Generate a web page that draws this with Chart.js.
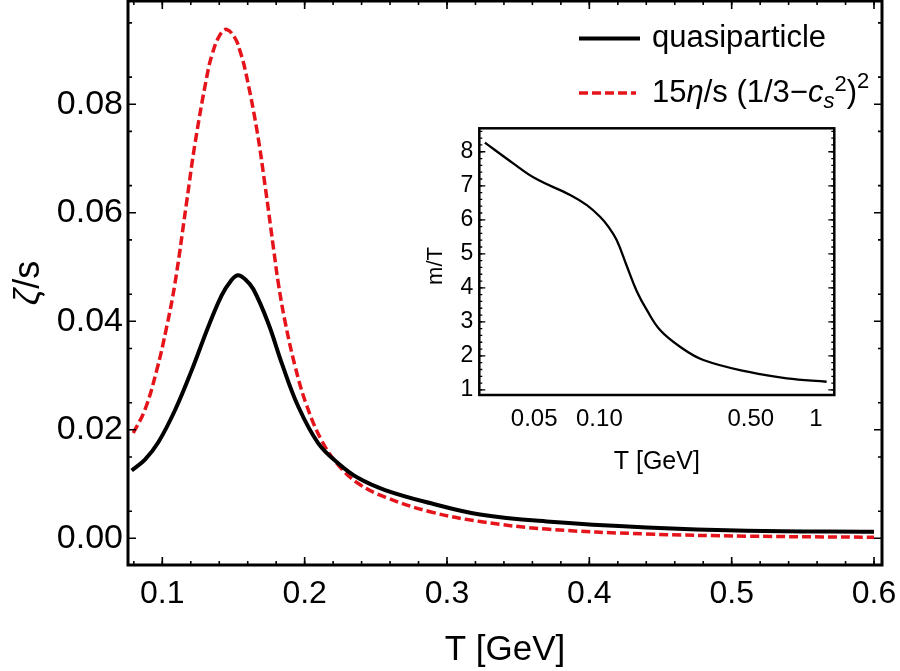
<!DOCTYPE html>
<html>
<head>
<meta charset="utf-8">
<script src="https://cdn.jsdelivr.net/npm/chart.js@4"></script>
<style>
  html, body { margin: 0; padding: 0; background: #fff; }
  #wrap { position: relative; width: 900px; height: 671px; }
  #mainChart { position: absolute; left: 0; top: 0; }
  #insetChart { position: absolute; left: 420px; top: 120px; }
</style>
</head>
<body>
<div id="wrap">
  <canvas id="mainChart" width="900" height="671"></canvas>
  <canvas id="insetChart" width="425" height="360"></canvas>
</div>
<script>
/* zeta/s vs T, with m/T inset */

const FONT = '"Liberation Sans", Arial, Helvetica, sans-serif';
const RED = "#e5141b";

// main panel: quasiparticle zeta/s
const T_QP = [0.0785, 0.0878, 0.0972, 0.1089, 0.1207, 0.1323, 0.1417, 0.148, 0.153, 0.158, 0.164,
  0.1745, 0.1839, 0.1955, 0.2096, 0.2237, 0.2377, 0.2565, 0.2881, 0.3232, 0.370, 0.4403, 0.5106, 0.6];
const ZETA_QP = [0.0125, 0.0145, 0.0177, 0.0236, 0.0310, 0.0390, 0.0448, 0.0474, 0.0485, 0.0478, 0.0459,
  0.0396, 0.0323, 0.0243, 0.0175, 0.0138, 0.0111, 0.0089, 0.0065, 0.0044, 0.0031, 0.0020, 0.0014, 0.0012];

// main panel: 15 eta/s (1/3 - cs^2)^2
const T_EST = [0.0796, 0.0878, 0.0961, 0.1031, 0.1089, 0.117, 0.123, 0.1312, 0.1351, 0.1405, 0.1452,
  0.1511, 0.1546, 0.1581, 0.1663, 0.1722, 0.178, 0.1815, 0.1862, 0.1932, 0.2014, 0.212, 0.2237,
  0.2377, 0.2565, 0.2881, 0.3232, 0.370, 0.4403, 0.5106, 0.6];
const ZETA_EST = [0.0194, 0.0237, 0.0310, 0.0390, 0.0470, 0.0618, 0.0728, 0.0850, 0.0893, 0.0928, 0.0938,
  0.0922, 0.0898, 0.0865, 0.0755, 0.0650, 0.0537, 0.0470, 0.0400, 0.0318, 0.0245, 0.0180, 0.0135,
  0.0101, 0.0076, 0.0049, 0.0031, 0.0017, 0.0008, 0.0004, 0.0002];

const X_TICKS = [0.1, 0.2, 0.3, 0.4, 0.5, 0.6];
const Y_TICKS = [0, 0.02, 0.04, 0.06, 0.08];

// inset: m/T vs T (log axis)
const T_MASS = [0.0296, 0.04, 0.0505, 0.0733, 0.0875, 0.1007, 0.110, 0.1203, 0.1337, 0.1488,
  0.1655, 0.1906, 0.2356, 0.302, 0.496, 0.733, 1.12];
const M_OVER_T = [8.27, 7.66, 7.22, 6.73, 6.43, 6.09, 5.80, 5.40, 4.65, 3.90,
  3.35, 2.76, 2.27, 1.88, 1.52, 1.34, 1.24];
const INSET_X_TICKS = [0.05, 0.1, 0.5, 1];
const INSET_X_LABELS = ["0.05", "0.10", "0.50", "1"];
const INSET_Y_TICKS = [1, 2, 3, 4, 5, 6, 7, 8];

const toPoints = (xs, ys) => xs.map((x, i) => ({ x, y: ys[i] }));

function drawRich(ctx, x, y, parts) {
  parts.forEach((p) => {
    ctx.font = `${p.italic ? "italic " : ""}${p.size}px ${FONT}`;
    ctx.fillText(p.text, x, y + (p.dy || 0));
    x += ctx.measureText(p.text).width;
  });
}

function tickPath(ctx, a, xs, ys, len) {
  xs.forEach((px) => {
    ctx.moveTo(px, a.bottom); ctx.lineTo(px, a.bottom - len);
    ctx.moveTo(px, a.top); ctx.lineTo(px, a.top + len);
  });
  ys.forEach((py) => {
    ctx.moveTo(a.left, py); ctx.lineTo(a.left + len, py);
    ctx.moveTo(a.right, py); ctx.lineTo(a.right - len, py);
  });
}

// chart.js pads vertical scales for half a label height; the frame must sit flush
function noScalePadding(s) {
  s.paddingTop = 0;
  s.paddingBottom = 0;
  s.paddingLeft = 0;
  s.paddingRight = 0;
}

const mainDecor = {
  id: "mainDecor",
  afterDraw(chart) {
    const { ctx, chartArea: a, scales: { x, y } } = chart;
    ctx.save();
    ctx.strokeStyle = "#000";
    ctx.lineWidth = 1.6;

    const xMinor = [], yMinor = [];
    for (let v = 0.08; v < 0.605; v += 0.02) xMinor.push(x.getPixelForValue(v));
    for (let v = 0.005; v < 0.099; v += 0.01) yMinor.push(y.getPixelForValue(v));
    ctx.beginPath();
    tickPath(ctx, a, xMinor, yMinor, 4);
    ctx.stroke();
    ctx.beginPath();
    tickPath(ctx, a, X_TICKS.map((v) => x.getPixelForValue(v)), Y_TICKS.map((v) => y.getPixelForValue(v)), 8);
    ctx.stroke();

    ctx.lineWidth = 3;
    ctx.strokeRect(a.left, a.top, a.right - a.left, a.bottom - a.top);

    // axis titles
    ctx.fillStyle = "#000";
    ctx.textAlign = "center";
    ctx.textBaseline = "alphabetic";
    ctx.font = `35px ${FONT}`;
    ctx.fillText("T [GeV]", (a.left + a.right) / 2, 660);

    ctx.save();
    ctx.translate(39, 283);
    ctx.rotate(-Math.PI / 2);
    ctx.textAlign = "left";
    ctx.font = `italic 36px ${FONT}`;
    const w1 = ctx.measureText("\u03b6").width;
    ctx.font = `36px ${FONT}`;
    const w2 = ctx.measureText("/s").width;
    drawRich(ctx, -(w1 + w2) / 2, 0, [
      { text: "\u03b6", italic: true, size: 36 },
      { text: "/s", size: 36 },
    ]);
    ctx.restore();

    // legend
    ctx.lineWidth = 4;
    ctx.beginPath();
    ctx.moveTo(579, 38.5); ctx.lineTo(640, 38.5);
    ctx.stroke();
    ctx.strokeStyle = RED;
    ctx.lineWidth = 3.5;
    ctx.setLineDash([9, 4]);
    ctx.beginPath();
    ctx.moveTo(579, 93); ctx.lineTo(636, 93);
    ctx.stroke();
    ctx.setLineDash([]);

    ctx.textAlign = "left";
    drawRich(ctx, 652, 47, [{ text: "quasiparticle", size: 31 }]);
    drawRich(ctx, 652, 102, [
      { text: "15", size: 31 },
      { text: "\u03b7", italic: true, size: 31 },
      { text: "/s (1/3\u2212", size: 31 },
      { text: "c", italic: true, size: 31 },
      { text: "s", italic: true, size: 22, dy: 6 },
      { text: "2", size: 22, dy: -11 },
      { text: ")", size: 31 },
      { text: "2", size: 22, dy: -14 },
    ]);
    ctx.restore();
  },
};

new Chart(document.getElementById("mainChart"), {
  type: "line",
  data: {
    datasets: [
      {
        label: "quasiparticle",
        data: toPoints(T_QP, ZETA_QP),
        borderColor: "#000",
        borderWidth: 4,
        pointRadius: 0,
        tension: 0.4,
        fill: false,
      },
      {
        label: "15η/s (1/3−cs²)²",
        data: toPoints(T_EST, ZETA_EST),
        borderColor: RED,
        borderWidth: 3.5,
        borderDash: [9, 4],
        pointRadius: 0,
        tension: 0.4,
        fill: false,
      },
    ],
  },
  options: {
    responsive: false,
    animation: false,
    devicePixelRatio: 1,
    layout: { padding: { top: 1, right: 18, left: 0, bottom: 0 } },
    plugins: { legend: { display: false }, tooltip: { enabled: false } },
    scales: {
      x: {
        type: "linear",
        min: 0.0759,
        max: 0.6056,
        grid: { display: false, drawTicks: false },
        border: { display: false },
        afterFit: (s) => { s.height = 106; noScalePadding(s); },
        afterBuildTicks: (s) => { s.ticks = X_TICKS.map((v) => ({ value: v })); },
        ticks: {
          color: "#000",
          font: { family: FONT, size: 32 },
          padding: 10,
          maxRotation: 0,
          callback: (v) => v.toFixed(1),
        },
      },
      y: {
        type: "linear",
        min: -0.00492,
        max: 0.09904,
        grid: { display: false, drawTicks: false },
        border: { display: false },
        afterFit: (s) => { s.width = 128; noScalePadding(s); },
        afterBuildTicks: (s) => { s.ticks = Y_TICKS.map((v) => ({ value: v })); },
        ticks: {
          color: "#000",
          font: { family: FONT, size: 34 },
          padding: 5,
          callback: (v) => v.toFixed(2),
        },
      },
    },
  },
  plugins: [mainDecor],
});

const insetDecor = {
  id: "insetDecor",
  beforeDraw(chart) {
    const { ctx, width, height } = chart;
    ctx.save();
    ctx.fillStyle = "#fff";
    ctx.fillRect(0, 0, width, height);
    ctx.restore();
  },
  afterDraw(chart) {
    const { ctx, chartArea: a, scales: { y } } = chart;
    ctx.save();
    ctx.strokeStyle = "#000";
    ctx.lineWidth = 1.3;
    const yMinor = [];
    for (let v = 1; v < 8.7; v += 0.2) yMinor.push(y.getPixelForValue(v));
    ctx.beginPath();
    tickPath(ctx, a, [], yMinor, 3);
    ctx.stroke();
    ctx.beginPath();
    tickPath(ctx, a, [], INSET_Y_TICKS.map((v) => y.getPixelForValue(v)), 6);
    ctx.stroke();

    ctx.lineWidth = 2.5;
    ctx.strokeRect(a.left, a.top, a.right - a.left, a.bottom - a.top);

    ctx.fillStyle = "#000";
    ctx.textAlign = "center";
    ctx.textBaseline = "alphabetic";
    ctx.font = `25px ${FONT}`;
    ctx.fillText("T [GeV]", (a.left + a.right) / 2, 349);

    ctx.translate(22, 146);
    ctx.rotate(-Math.PI / 2);
    ctx.font = `22px ${FONT}`;
    ctx.fillText("m/T", 0, 0);
    ctx.restore();
  },
};

new Chart(document.getElementById("insetChart"), {
  type: "line",
  data: {
    datasets: [
      {
        label: "m/T",
        data: toPoints(T_MASS, M_OVER_T),
        borderColor: "#000",
        borderWidth: 2.3,
        pointRadius: 0,
        tension: 0.4,
        fill: false,
      },
    ],
  },
  options: {
    responsive: false,
    animation: false,
    devicePixelRatio: 1,
    layout: { padding: { top: 8.3, right: 10.7, left: 0, bottom: 0 } },
    plugins: { legend: { display: false }, tooltip: { enabled: false } },
    scales: {
      x: {
        type: "logarithmic",
        min: 0.0279,
        max: 1.215,
        grid: { display: false, drawTicks: false },
        border: { display: false },
        afterFit: (s) => { s.height = 85; noScalePadding(s); },
        afterBuildTicks: (s) => { s.ticks = INSET_X_TICKS.map((v) => ({ value: v })); },
        ticks: {
          color: "#000",
          font: { family: FONT, size: 24 },
          padding: 10,
          maxRotation: 0,
          autoSkip: false,
          callback: (v, i) => INSET_X_LABELS[i],
        },
      },
      y: {
        type: "linear",
        min: 0.85,
        max: 8.69,
        grid: { display: false, drawTicks: false },
        border: { display: false },
        afterFit: (s) => { s.width = 59.3; noScalePadding(s); },
        afterBuildTicks: (s) => { s.ticks = INSET_Y_TICKS.map((v) => ({ value: v })); },
        ticks: {
          color: "#000",
          font: { family: FONT, size: 23 },
          padding: 6,
          callback: (v) => String(v),
        },
      },
    },
  },
  plugins: [insetDecor],
});
</script>
</body>
</html>
